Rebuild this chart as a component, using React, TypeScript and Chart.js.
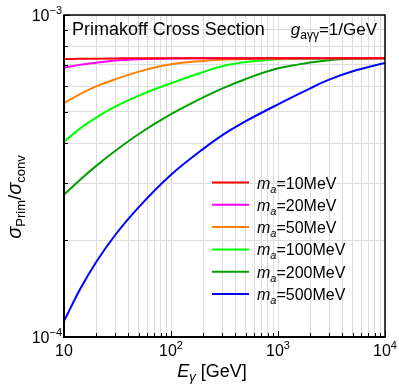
import React, { useEffect, useRef } from "react";
import { Chart, registerables } from "chart.js";

Chart.register(...registerables);

// Photon energy E_gamma [GeV]
const energies = [10, 14, 20, 30, 50, 100, 200, 300, 500, 1000, 2000, 3000, 5000, 10000];
// sigma_Prim / sigma_conv in units of 1e-4
const Y_UNIT = 1e-4;
const ma10 = [7.30, 7.31, 7.32, 7.33, 7.34, 7.34, 7.34, 7.34, 7.34, 7.34, 7.34, 7.34, 7.34, 7.34];
const ma20 = [6.86, 7.00, 7.11, 7.22, 7.29, 7.33, 7.34, 7.34, 7.34, 7.34, 7.34, 7.34, 7.34, 7.34];
const ma50 = [5.32, 5.67, 6.00, 6.31, 6.67, 7.03, 7.20, 7.26, 7.30, 7.32, 7.33, 7.34, 7.34, 7.34];
const ma100 = [4.04, 4.43, 4.80, 5.19, 5.62, 6.14, 6.65, 6.93, 7.14, 7.29, 7.32, 7.33, 7.34, 7.34];
const ma200 = [2.77, 3.07, 3.40, 3.78, 4.27, 4.92, 5.55, 5.91, 6.33, 6.83, 7.12, 7.24, 7.31, 7.34];
const ma500 = [1.12, 1.40, 1.71, 2.07, 2.53, 3.19, 3.84, 4.23, 4.68, 5.28, 5.92, 6.30, 6.69, 7.10];

const massLabels = ["10", "20", "50", "100", "200", "500"];
const seriesValues = [ma10, ma20, ma50, ma100, ma200, ma500];
const seriesColors = ["#ff0000", "#ff00ff", "#ff8000", "#00ff00", "#00a000", "#0000ff"];

const xTickValues = [10, 20, 30, 40, 50, 60, 70, 80, 90, 100, 200, 300, 400, 500, 600, 700, 800, 900, 1000, 2000, 3000, 4000, 5000, 6000, 7000, 8000, 9000, 10000];
const yTickValues = [1e-4, 2e-4, 3e-4, 4e-4, 5e-4, 6e-4, 7e-4, 8e-4, 9e-4, 1e-3];
const xMajorLabels = [
  { v: 10, base: "10", exp: "" },
  { v: 100, base: "10", exp: "2" },
  { v: 1000, base: "10", exp: "3" },
  { v: 10000, base: "10", exp: "4" },
];
const yMajorLabels = [
  { v: 1e-4, base: "10", exp: "\u22124" },
  { v: 1e-3, base: "10", exp: "\u22123" },
];

const FONT = '"Liberation Sans", Arial, Helvetica, sans-serif';

type Part = { t: string; size: number; italic?: boolean; dy?: number };

function setFont(ctx: CanvasRenderingContext2D, p: Part) {
  ctx.font = `${p.italic ? "italic " : ""}${p.size}px ${FONT}`;
}
function richWidth(ctx: CanvasRenderingContext2D, parts: Part[]) {
  let w = 0;
  for (const p of parts) {
    setFont(ctx, p);
    w += ctx.measureText(p.t).width;
  }
  return w;
}
function drawRich(ctx: CanvasRenderingContext2D, parts: Part[], x: number, y: number, align: "left" | "center" | "right") {
  const w = richWidth(ctx, parts);
  let cx = align === "left" ? x : align === "center" ? x - w / 2 : x - w;
  ctx.textAlign = "left";
  ctx.textBaseline = "alphabetic";
  for (const p of parts) {
    setFont(ctx, p);
    ctx.fillText(p.t, cx, y + (p.dy || 0));
    cx += ctx.measureText(p.t).width;
  }
}

const overlayPlugin = {
  id: "overlay",
  afterDraw(chart: any) {
    const ctx: CanvasRenderingContext2D = chart.ctx;
    const { left, right, top, bottom } = chart.chartArea;
    const xs = chart.scales.x;
    const ys = chart.scales.y;
    ctx.save();
    ctx.fillStyle = "#000";
    ctx.strokeStyle = "#000";

    // tick marks (inward)
    ctx.lineWidth = 1;
    for (const v of xTickValues) {
      const px = Math.round(xs.getPixelForValue(v)) + 0.5;
      const major = Math.abs(Math.log10(v) - Math.round(Math.log10(v))) < 1e-9;
      const len = major ? 6 : 4;
      ctx.beginPath();
      ctx.moveTo(px, bottom);
      ctx.lineTo(px, bottom - len);
      ctx.stroke();
    }
    for (const v of yTickValues) {
      const py = Math.round(ys.getPixelForValue(v)) + 0.5;
      const major = Math.abs(Math.log10(v) - Math.round(Math.log10(v))) < 1e-9;
      const len = major ? 6 : 4;
      ctx.beginPath();
      ctx.moveTo(left, py);
      ctx.lineTo(left + len, py);
      ctx.stroke();
    }

    // frame
    ctx.lineWidth = 1.5;
    ctx.strokeRect(left, top, right - left, bottom - top);
    ctx.lineWidth = 2;
    ctx.beginPath();
    ctx.moveTo(left, top);
    ctx.lineTo(left, bottom);
    ctx.lineTo(right, bottom);
    ctx.stroke();

    // x tick labels
    for (const l of xMajorLabels) {
      const px = xs.getPixelForValue(l.v);
      const parts: Part[] = [{ t: l.base, size: 16 }];
      if (l.exp) parts.push({ t: l.exp, size: 11, dy: -7 });
      drawRich(ctx, parts, px, bottom + 19, "center");
    }
    // y tick labels
    for (const l of yMajorLabels) {
      const py = ys.getPixelForValue(l.v);
      drawRich(ctx, [{ t: l.base, size: 16 }, { t: l.exp, size: 11, dy: -7 }], left - 2, py + 6, "right");
    }

    // axis titles
    drawRich(
      ctx,
      [
        { t: "E", size: 18, italic: true },
        { t: "\u03b3", size: 13, italic: true, dy: 4 },
        { t: " [GeV]", size: 18 },
      ],
      212,
      bottom + 40,
      "center"
    );
    ctx.save();
    ctx.translate(21, 197);
    ctx.rotate(-Math.PI / 2);
    drawRich(
      ctx,
      [
        { t: "\u03c3", size: 20, italic: true },
        { t: "Prim", size: 13, dy: 4 },
        { t: "/", size: 19 },
        { t: "\u03c3", size: 20, italic: true },
        { t: "conv", size: 13, dy: 4 },
      ],
      0,
      0,
      "center"
    );
    ctx.restore();

    // annotations
    drawRich(ctx, [{ t: "Primakoff Cross Section", size: 18 }], left + 8, top + 20, "left");
    drawRich(
      ctx,
      [
        { t: "g", size: 17, italic: true },
        { t: "a\u03b3\u03b3", size: 12, dy: 4 },
        { t: "=1/GeV", size: 17 },
      ],
      right - 8,
      top + 20,
      "right"
    );

    // legend
    const lx0 = 212;
    const lx1 = 249;
    const ly0 = 182.5;
    const dy = 22.3;
    massLabels.forEach((m, i) => {
      const y = ly0 + i * dy;
      ctx.strokeStyle = seriesColors[i];
      ctx.lineWidth = 2;
      ctx.beginPath();
      ctx.moveTo(lx0, y);
      ctx.lineTo(lx1, y);
      ctx.stroke();
      ctx.fillStyle = "#000";
      drawRich(
        ctx,
        [
          { t: "m", size: 16, italic: true },
          { t: "a", size: 11, italic: true, dy: 4 },
          { t: `=${m}MeV`, size: 16 },
        ],
        257,
        y + 6,
        "left"
      );
    });
    ctx.restore();
  },
};

export default function App() {
  const ref = useRef<HTMLCanvasElement>(null);
  useEffect(() => {
    if (!ref.current) return;
    const chart = new Chart(ref.current, {
      type: "line",
      data: {
        datasets: seriesValues.map((vals, i) => ({
          label: `m_a=${massLabels[i]}MeV`,
          data: energies.map((e, j) => ({ x: e, y: vals[j] * Y_UNIT })),
          borderColor: seriesColors[i],
          backgroundColor: seriesColors[i],
          borderWidth: 2,
          pointRadius: 0,
          cubicInterpolationMode: "monotone" as const,
          fill: false,
        })),
      },
      options: {
        animation: false,
        responsive: false,
        devicePixelRatio: 1,
        layout: { padding: { left: 64, top: 15, right: 14, bottom: 51 } },
        plugins: { legend: { display: false }, tooltip: { enabled: false }, title: { display: false } },
        scales: {
          x: {
            type: "logarithmic",
            min: 10,
            max: 10000,
            ticks: { display: false, autoSkip: false },
            grid: { color: "#dcdcdc", lineWidth: 1, drawTicks: false },
            border: { display: false },
            afterBuildTicks: (s: any) => {
              s.ticks = xTickValues.map((v) => ({ value: v }));
            },
            afterFit: (s: any) => {
              s.height = 0;
            },
          },
          y: {
            type: "logarithmic",
            min: 1e-4,
            max: 1e-3,
            ticks: { display: false, autoSkip: false },
            grid: { color: "#dcdcdc", lineWidth: 1, drawTicks: false },
            border: { display: false },
            afterBuildTicks: (s: any) => {
              s.ticks = yTickValues.map((v) => ({ value: v }));
            },
            afterFit: (s: any) => {
              s.width = 0;
            },
          },
        },
      },
      plugins: [overlayPlugin],
    });
    return () => chart.destroy();
  }, []);
  return (
    <div style={{ position: "absolute", left: 0, top: 0, width: 399, height: 388, background: "#fff" }}>
      <canvas ref={ref} width={399} height={388} style={{ width: 399, height: 388, display: "block" }} />
    </div>
  );
}
